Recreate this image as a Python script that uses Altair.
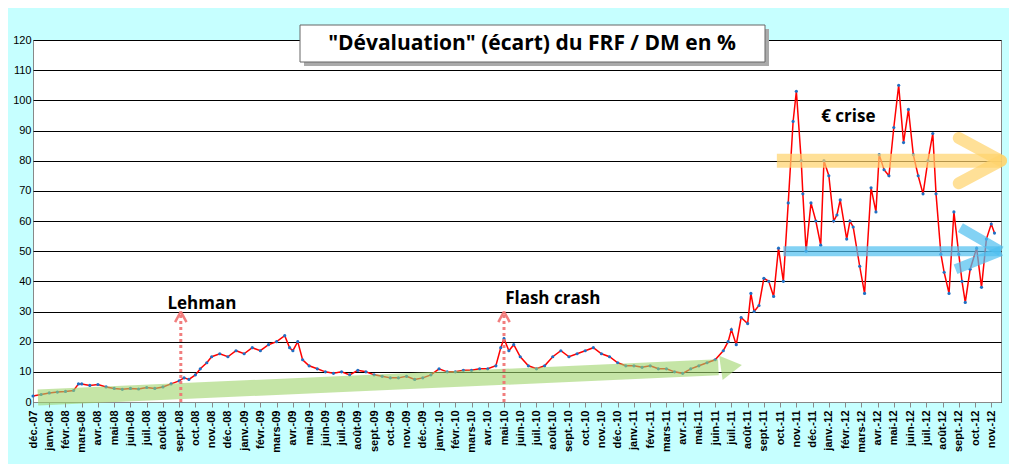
import altair as alt
import pandas as pd

# month index (0 = déc.-07) and écart in %
month = [0, 0.5, 1, 1.5, 2, 2.5, 2.8, 3, 3.5, 4, 4.5, 5, 5.5, 6, 6.5, 7, 7.5, 8, 8.5, 9, 9.3, 9.6,
         10, 10.3, 10.7, 11, 11.5, 12, 12.5, 13, 13.5, 14, 14.5, 15, 15.5, 15.8, 16, 16.3, 16.6, 17,
         17.5, 18, 18.5, 19, 19.5, 20, 20.5, 21, 21.5, 22, 22.5, 23, 23.5, 24, 24.5, 25, 25.5, 26,
         26.5, 27, 27.5, 28, 28.5, 28.8, 29, 29.3, 29.6, 30, 30.5, 31, 31.5, 32, 32.5, 33, 33.5, 34,
         34.5, 35, 35.5, 36, 36.5, 37, 37.5, 38, 38.5, 39, 39.5, 40, 40.5, 41, 41.5, 42, 42.5, 42.8,
         43, 43.3, 43.6, 44, 44.2, 44.4, 44.7, 45.0, 45.3, 45.6, 45.9, 46.2, 46.5, 46.8, 47.0, 47.3,
         47.4, 47.6, 47.9, 48.2, 48.5, 48.7, 49.0, 49.3, 49.5, 49.7, 50.1, 50.3, 50.5, 50.9, 51.2,
         51.6, 51.9, 52.1, 52.4, 52.7, 53.0, 53.3, 53.6, 53.9, 54.2, 54.5, 54.8, 55.1, 55.4, 55.6,
         55.9, 56.1, 56.4, 56.7, 57.0, 57.2, 57.4, 57.7, 58.1, 58.4, 58.7, 59.0, 59.2]
ecart = [2, 2.5, 3, 3.3, 3.5, 3.8, 6, 6, 5.5, 5.8, 5, 4.5, 4.2, 4.5, 4.3, 4.8, 4.5, 5, 6, 7, 8, 7.5,
         9, 11, 13, 15, 16, 15, 17, 16, 18, 17, 19, 20, 22, 18, 17, 20, 14, 12,
         11, 10, 9.5, 10, 9, 10.5, 10, 9, 8.5, 8, 8, 8.5, 7.5, 8, 9, 11, 10, 10,
         10.5, 10.5, 11, 11, 12, 18, 21, 17, 19, 15, 12, 11, 12, 15, 17, 15, 16, 17,
         18, 16, 15, 13, 12, 12, 11.5, 12, 11, 11, 10, 9.5, 11, 12, 13, 14, 17, 20,
         24, 19, 28, 26, 36, 30, 32, 41, 40, 35, 51, 40, 66, 93, 103, 80,
         69, 50, 66, 60, 52, 80, 75, 60, 62, 67, 54, 60, 58, 45, 36,
         71, 63, 82, 77, 75, 91, 105, 86, 97, 82, 75, 69, 80, 89, 69,
         49, 43, 36, 63, 49, 40, 33, 44, 51, 38, 54, 59, 56]

month_names = ["déc.", "janv.", "févr.", "mars", "avr.", "mai", "juin", "juil.", "août",
               "sept.", "oct.", "nov."]
labels = []
for i in range(60):
    yr = 7 + (i + 11) // 12
    labels.append(f"{month_names[i % 12]}-{yr:02d}")

df = pd.DataFrame({"m": month, "v": ecart})
label_arr = "[" + ",".join(f"'{s}'" for s in labels) + "]"

xs = alt.Scale(domain=[0, 59.6], nice=False, zero=False)
ys = alt.Scale(domain=[0, 120], nice=False)
X = alt.X("m:Q", scale=xs, title=None,
          axis=alt.Axis(values=list(range(60)), labelExpr=f"{label_arr}[datum.value]",
                        labelAngle=-90, labelFontWeight="bold", labelFontSize=11,
                        labelColor="black", grid=False, domainColor="#888",
                        tickColor="#888", labelPadding=3, labelOverlap=False,
                        labelFlush=False, labelBound=False))
Y = alt.Y("v:Q", scale=ys, title=None,
          axis=alt.Axis(values=list(range(0, 121, 10)), gridColor="black", gridWidth=1,
                        labelColor="black", labelFontSize=11, domain=False, ticks=False,
                        labelOverlap=False, labelFlush=False))

base = alt.Chart(df)
line = base.mark_line(color="red", strokeWidth=1.5).encode(x=X, y=Y)
pts = base.mark_circle(color="#1f6fc4", size=10, opacity=1).encode(x=X, y=Y)


def seg(xa, ya, xb, yb, color, w, opacity=0.7, dash=None, cap="butt"):
    d = pd.DataFrame({"m": [xa, xb], "v": [ya, yb]})
    kw = dict(color=color, strokeWidth=w, opacity=opacity, strokeCap=cap)
    if dash:
        kw["strokeDash"] = dash
    return alt.Chart(d).mark_line(**kw).encode(x=X, y=Y)


layers = [line, pts]
# green trend band
layers.append(seg(0.3, 1.5, 42.2, 11.5, "#9fd36a", 16, 0.6))
layers.append(alt.Chart(pd.DataFrame({"m": [43.0], "v": [11.8]})).mark_point(
    shape="triangle-right", filled=True, size=600, color="#9fd36a", opacity=0.6, angle=352
).encode(x=X, y=Y))
# yellow 80 arrow
layers += [seg(45.8, 80, 59.6, 80, "#ffd36b", 14),
           seg(57.0, 87.5, 59.6, 80, "#ffd36b", 12, cap="round"),
           seg(57.0, 72.5, 59.6, 80, "#ffd36b", 12, cap="round")]
# blue 50 arrow
layers += [seg(46.2, 50, 59.6, 50, "#4fbff0", 10),
           seg(57.1, 57.8, 59.6, 50, "#4fbff0", 10),
           seg(56.8, 44, 59.6, 50, "#4fbff0", 10)]
# dotted event arrows
for mx in [9.1, 29.0]:
    layers += [seg(mx, 0, mx, 29, "#f07070", 3, 0.9, dash=[3, 3]),
               seg(mx - 0.35, 26.5, mx, 30, "#f07070", 2.5, 0.9),
               seg(mx + 0.35, 26.5, mx, 30, "#f07070", 2.5, 0.9)]

txt = pd.DataFrame({"m": [10.4, 32.0, 50.2], "v": [32.5, 34, 94.5],
                    "t": ["Lehman", "Flash crash", "€ crise"]})
layers.append(alt.Chart(txt).mark_text(fontSize=17, fontWeight="bold", color="black",
                                       font="Open Sans").encode(x=X, y=Y, text="t:N"))

# title box
layers.append(alt.Chart(pd.DataFrame({"a": [0]})).mark_rect(color="#aaaaaa").encode(
    x=alt.value(271), x2=alt.value(736), y=alt.value(-11), y2=alt.value(26)))
layers.append(alt.Chart(pd.DataFrame({"a": [0]})).mark_rect(color="white", stroke="#666",
                                                            strokeWidth=1).encode(
    x=alt.value(267), x2=alt.value(732), y=alt.value(-15), y2=alt.value(22)))
layers.append(alt.Chart(pd.DataFrame({"a": [0]})).mark_text(
    text='"Dévaluation" (écart) du FRF / DM en %', fontSize=21, fontWeight="bold",
    font="Open Sans", color="black").encode(x=alt.value(499), y=alt.value(4)))

chart = alt.layer(*layers).properties(
    width=968, height=362, background="#c6ffff",
    autosize=alt.AutoSizeParams(type="none"),
    padding={"left": 25, "top": 32, "right": 8, "bottom": 62},
).configure_view(fill="white", stroke="#888")

chart.save("out.html", embed_options={"renderer": "svg", "actions": False})
